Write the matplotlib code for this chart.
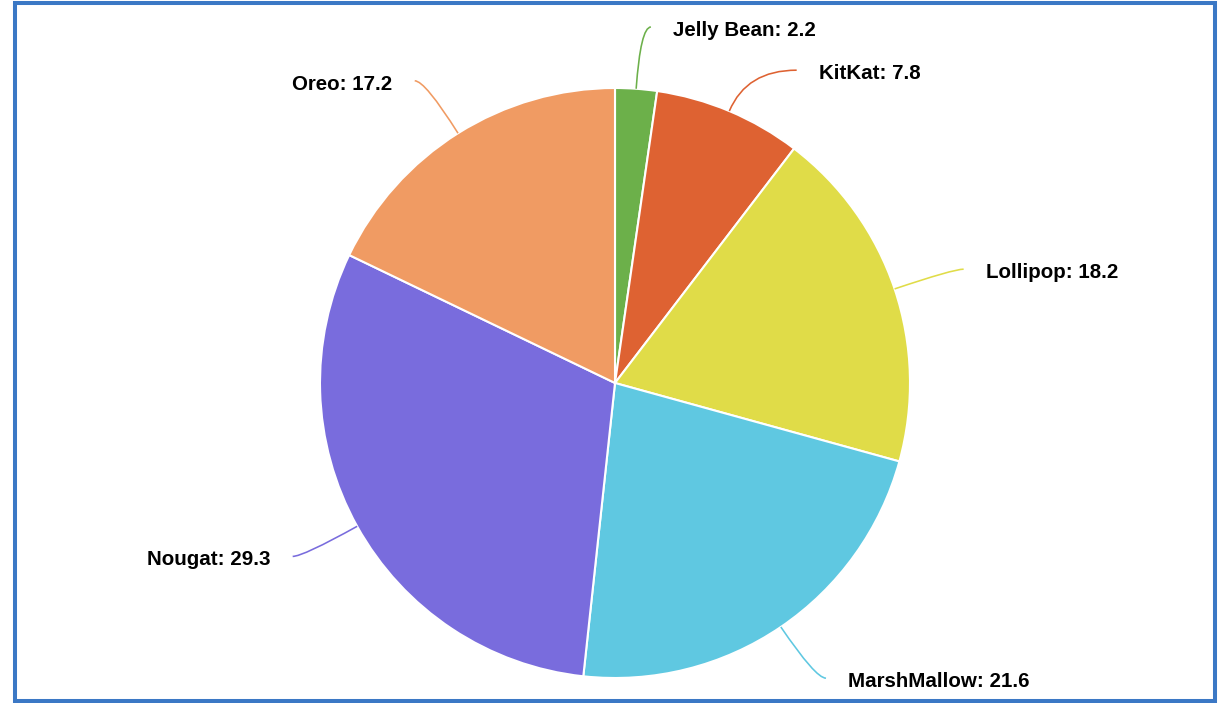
import numpy as np
import matplotlib
matplotlib.use("Agg")
import matplotlib.pyplot as plt
from matplotlib.patches import Rectangle, PathPatch
from matplotlib.path import Path

categories = ["Jelly Bean", "KitKat", "Lollipop", "MarshMallow", "Nougat", "Oreo"]
values = [2.2, 7.8, 18.2, 21.6, 29.3, 17.2]
colors = ["#6cb04a", "#de6232", "#e0dc48", "#5fc8e1", "#796cdd", "#f09b63"]

# label placement style (radius units)
elbow_r = 1.21
h_len = {"KitKat": 0.17}
dy_shift = {"KitKat": -0.055}

W, H, DPI = 1223, 703, 100
fig = plt.figure(figsize=(W / DPI, H / DPI), dpi=DPI)
ax = fig.add_axes([0, 0, 1, 1])
ax.set_axis_off()
scale = 295.0
cx, cy = 615.0, 383.0

wedges, _ = ax.pie(values, colors=colors, startangle=90, counterclock=False,
                   radius=1.0, center=(0, 0),
                   wedgeprops=dict(edgecolor="white", linewidth=1.5))
ax.set_aspect("auto")
ax.set_xlim(-cx / scale, (W - cx) / scale)
ax.set_ylim(-(H - cy) / scale, cy / scale)

total = sum(values)
cum = 0.0
for name, v, c in zip(categories, values, colors):
    mid = (cum + v / 2) / total * 2 * np.pi
    cum += v
    sx, sy = np.sin(mid), np.cos(mid)
    p0 = (sx, sy)
    ey = elbow_r * sy + dy_shift.get(name, 0.0)
    t = ey / sy
    ctrl = (t * sx, ey)
    side = 1 if sx >= 0 else -1
    end = (ctrl[0] + side * h_len.get(name, 0.035), ey)
    path = Path([p0, ctrl, end], [Path.MOVETO, Path.CURVE3, Path.CURVE3])
    ax.add_patch(PathPatch(path, facecolor="none", edgecolor=c, linewidth=1.15))
    ax.text(end[0] + side * 0.075, ey - 0.012, f"{name}: {v}",
            ha="left" if side > 0 else "right", va="center",
            fontsize=14.8, fontweight="bold", family="Liberation Sans", color="#000000")

border = Rectangle((14.5 / W, 2 / H), (1215 - 14.5) / W, (701 - 3) / H,
                   transform=fig.transFigure, fill=False, edgecolor="#3b78c5",
                   linewidth=2.9)
fig.patches.append(border)

fig.savefig("out.png", dpi=DPI)
